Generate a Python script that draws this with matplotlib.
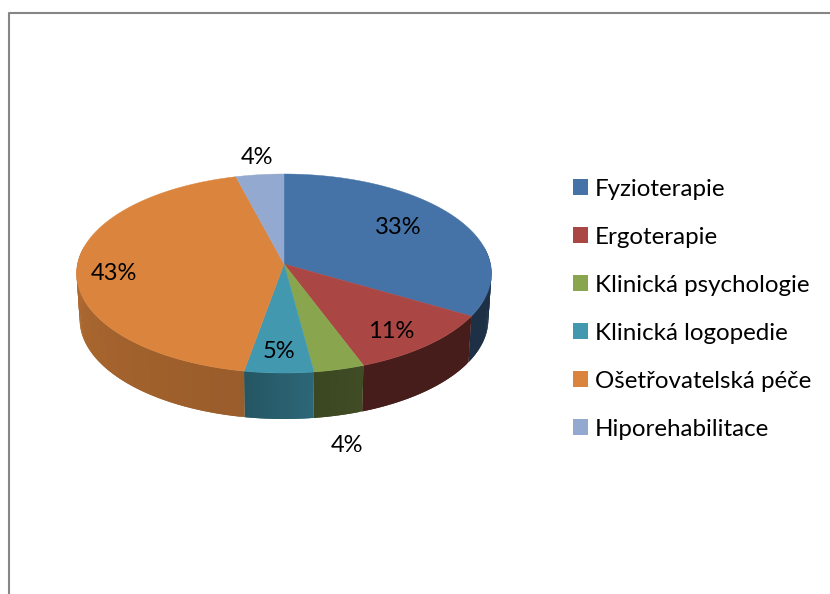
import matplotlib
matplotlib.use('Agg')
import matplotlib.pyplot as plt
from matplotlib.patches import Patch
import numpy as np

labels = ['Fyzioterapie', 'Ergoterapie', 'Klinická psychologie', 'Klinická logopedie',
          'Ošetřovatelská péče', 'Hiporehabilitace']
# the chart prints whole percents, the slice edges read a little finer
values = [33.4, 10.9, 3.6, 4.9, 43.1, 4.1]
colors = ['#4572A7', '#AA4643', '#89A54E', '#4198AF', '#DB843D', '#93A9CF']
# how dark the side wall is, at start and end of each slice
wall_shade = [(0.42, 0.42), (0.41, 0.41), (0.46, 0.43), (0.68, 0.56), (0.70, 0.88), (0.88, 0.88)]
# text centres in pixels
label_pos = [(398, 228), (391, 332), (347, 446), (279, 352), (114, 274), (257, 158)]

plt.rcParams['font.family'] = ['Lato', 'DejaVu Sans']

# perspective of the pie, pixels
cx, cy = 284, 264
a, b, k = 206.5, 98.6, 0.0955
depth = 46
shrink = 0.985


def project(theta):
    # theta in degrees, clockwise from the top
    t = np.radians(theta)
    x, z = np.sin(t), np.cos(t)
    w = 1 + k * z
    return cx + a * x / w, cy - b * z / w


def bottom(theta):
    x, y = project(theta)
    return cx + (x - cx) * shrink, y + depth


def shade(color, f):
    return tuple(c * f for c in matplotlib.colors.to_rgb(color))


fig = plt.figure(figsize=(8.3, 5.94), dpi=100)
ax = fig.add_axes([0, 0, 1, 1])
ax.set_xlim(0, 830)
ax.set_ylim(594, 0)
ax.axis('off')

edges = np.cumsum([0] + values) * 3.6

# side walls first, the top covers what is behind
for i in range(len(values)):
    start, end = edges[i], edges[i + 1]
    lo, hi = max(start, 80), min(end, 280)
    if hi <= lo:
        continue
    steps = np.linspace(lo, hi, int(hi - lo) + 2)
    for j in range(len(steps) - 1):
        t0 = steps[j]
        # each strip reaches under the next one so no seams show
        t1 = steps[min(j + 2, len(steps) - 1)]
        f = wall_shade[i][0] + (wall_shade[i][1] - wall_shade[i][0]) * (t0 - start) / (end - start)
        c = shade(colors[i], f)
        x0, y0 = project(t0)
        x1, y1 = project(t1)
        x2, y2 = bottom(t1)
        x3, y3 = bottom(t0)
        ax.fill([x0, x1, x2, x3], [y0, y1, y2, y3], facecolor=c, edgecolor='none')

# top of the pie
for i in range(len(values)):
    t = np.linspace(edges[i], edges[i + 1], 120)
    x, y = project(t)
    ax.fill(np.r_[cx, x], np.r_[cy, y], color=colors[i], lw=0.3)

for v, (x, y) in zip(values, label_pos):
    ax.text(x, y, f'{v:.0f}%', ha='center', va='center', fontsize=17, color='black')

# chart frame, runs off the picture on the right and bottom
ax.plot([9, 9, 830], [594, 13, 13], color='#868686', lw=1.5)

handles = [Patch(facecolor=c, edgecolor='none') for c in colors]
ax.legend(handles, labels, loc='upper left', bbox_to_anchor=(573, 178.6),
          bbox_transform=ax.transData, frameon=False, fontsize=17.4, borderpad=0,
          borderaxespad=0, handlelength=0.62, handleheight=0.62,
          handletextpad=0.29, labelspacing=1.118)

fig.savefig('out.png', dpi=100)
